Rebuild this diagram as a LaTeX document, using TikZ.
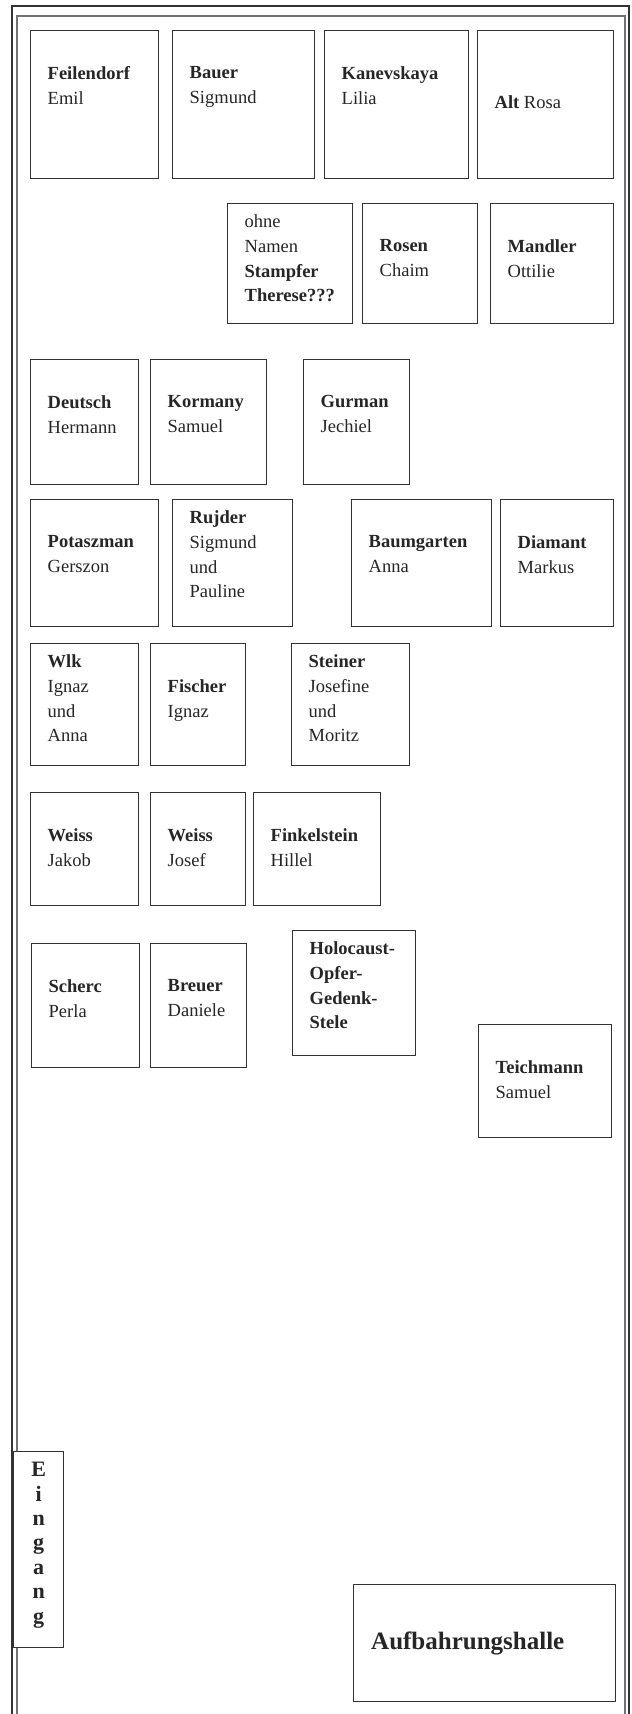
\documentclass[tikz,border=0pt]{standalone}
\usepackage{fontspec}
\setmainfont{Liberation Serif}
\usetikzlibrary{positioning}
\begin{document}
\begin{tikzpicture}[
    x=1pt, y=-1pt,
    grave/.style={draw=black!80, line width=1.4pt, fill=white, inner sep=0pt, anchor=north west},
    inscr/.style={inner sep=0pt, align=left, text=black!85,
        font=\fontsize{18.5}{24.7}\selectfont, execute at begin node=\strut},
    wall/.style={line width=2pt, draw=black!80},
    innerwall/.style={line width=1.2pt, draw=black!55}
]
    \useasboundingbox (0,0) rectangle (632,1714);
    % Cemetery wall
    \draw[wall] (12,1714) -- (12,6) -- (629,6) -- (629,1714);
    \draw[innerwall] (17,1714) -- (17,16) -- (625,16) -- (625,1714);

    % Row 1
    \node[grave, minimum width=128pt, minimum height=148pt] (feilendorf) at (30,30) {};
    \node[grave, minimum width=142pt, minimum height=148pt] (bauer) at (172,30) {};
    \node[grave, minimum width=144pt, minimum height=148pt] (kanevskaya) at (324,30) {};
    \node[grave, minimum width=136pt, minimum height=148pt] (alt) at (477,30) {};
    \node[inscr, below right=36.4pt and 17.5pt of feilendorf.north west] (feilendorf-t) {\textbf{Feilendorf}\\Emil};
    \node[inscr, below right=36.4pt and 17.5pt of bauer.north west] (bauer-t) {\textbf{Bauer}\\Sigmund};
    \node[inscr, below right=36.4pt and 17.5pt of kanevskaya.north west] (kanevskaya-t) {\textbf{Kanevskaya}\\Lilia};
    \node[inscr, below right=61.1pt and 17.5pt of alt.north west] (alt-t) {\textbf{Alt} Rosa};

    % Row 2
    \node[grave, minimum width=125pt, minimum height=120pt] (ohne) at (227,203) {};
    \node[grave, minimum width=115pt, minimum height=120pt] (rosen) at (362,203) {};
    \node[grave, minimum width=123pt, minimum height=120pt] (mandler) at (490,203) {};
    \node[inscr, below right=11.7pt and 17.5pt of ohne.north west] (ohne-t) {ohne\\Namen\\\textbf{Stampfer}\\\textbf{Therese???}};
    \node[inscr, below right=36.4pt and 17.5pt of rosen.north west] (rosen-t) {\textbf{Rosen}\\Chaim};
    \node[inscr, below right=36.4pt and 17.5pt of mandler.north west] (mandler-t) {\textbf{Mandler}\\Ottilie};

    % Row 3
    \node[grave, minimum width=108pt, minimum height=125pt] (deutsch) at (30,359) {};
    \node[grave, minimum width=116pt, minimum height=125pt] (kormany) at (150,359) {};
    \node[grave, minimum width=106pt, minimum height=125pt] (gurman) at (303,359) {};
    \node[inscr, below right=36.4pt and 17.5pt of deutsch.north west] (deutsch-t) {\textbf{Deutsch}\\Hermann};
    \node[inscr, below right=36.4pt and 17.5pt of kormany.north west] (kormany-t) {\textbf{Kormany}\\Samuel};
    \node[inscr, below right=36.4pt and 17.5pt of gurman.north west] (gurman-t) {\textbf{Gurman}\\Jechiel};

    % Row 4
    \node[grave, minimum width=128pt, minimum height=127pt] (potaszman) at (30,499) {};
    \node[grave, minimum width=120pt, minimum height=127pt] (rujder) at (172,499) {};
    \node[grave, minimum width=140pt, minimum height=127pt] (baumgarten) at (351,499) {};
    \node[grave, minimum width=113pt, minimum height=127pt] (diamant) at (500,499) {};
    \node[inscr, below right=36.4pt and 17.5pt of potaszman.north west] (potaszman-t) {\textbf{Potaszman}\\Gerszon};
    \node[inscr, below right=11.7pt and 17.5pt of rujder.north west] (rujder-t) {\textbf{Rujder}\\Sigmund\\und\\Pauline};
    \node[inscr, below right=36.4pt and 17.5pt of baumgarten.north west] (baumgarten-t) {\textbf{Baumgarten}\\Anna};
    \node[inscr, below right=36.4pt and 17.5pt of diamant.north west] (diamant-t) {\textbf{Diamant}\\Markus};

    % Row 5
    \node[grave, minimum width=108pt, minimum height=122pt] (wlk) at (30,643) {};
    \node[grave, minimum width=95pt, minimum height=122pt] (fischer) at (150,643) {};
    \node[grave, minimum width=118pt, minimum height=122pt] (steiner) at (291,643) {};
    \node[inscr, below right=11.7pt and 17.5pt of wlk.north west] (wlk-t) {\textbf{Wlk}\\Ignaz\\und\\Anna};
    \node[inscr, below right=36.4pt and 17.5pt of fischer.north west] (fischer-t) {\textbf{Fischer}\\Ignaz};
    \node[inscr, below right=11.7pt and 17.5pt of steiner.north west] (steiner-t) {\textbf{Steiner}\\Josefine\\und\\Moritz};

    % Row 6
    \node[grave, minimum width=108pt, minimum height=113pt] (weissJ) at (30,792) {};
    \node[grave, minimum width=95pt, minimum height=113pt] (weissJo) at (150,792) {};
    \node[grave, minimum width=127pt, minimum height=113pt] (finkelstein) at (253,792) {};
    \node[inscr, below right=36.4pt and 17.5pt of weissJ.north west] (weissJ-t) {\textbf{Weiss}\\Jakob};
    \node[inscr, below right=36.4pt and 17.5pt of weissJo.north west] (weissJo-t) {\textbf{Weiss}\\Josef};
    \node[inscr, below right=36.4pt and 17.5pt of finkelstein.north west] (finkelstein-t) {\textbf{Finkelstein}\\Hillel};

    % Row 7
    \node[grave, minimum width=108pt, minimum height=124pt] (scherc) at (31,943) {};
    \node[grave, minimum width=96pt, minimum height=124pt] (breuer) at (150,943) {};
    \node[grave, minimum width=123pt, minimum height=125pt] (stele) at (292,930) {};
    \node[grave, minimum width=133pt, minimum height=113pt] (teichmann) at (478,1024) {};
    \node[inscr, below right=36.4pt and 17.5pt of scherc.north west] (scherc-t) {\textbf{Scherc}\\Perla};
    \node[inscr, below right=36.4pt and 17.5pt of breuer.north west] (breuer-t) {\textbf{Breuer}\\Daniele};
    \node[inscr, below right=11.7pt and 17.5pt of stele.north west] (stele-t) {\textbf{Holocaust-}\\\textbf{Opfer-}\\\textbf{Gedenk-}\\\textbf{Stele}};
    \node[inscr, below right=36.4pt and 17.5pt of teichmann.north west] (teichmann-t) {\textbf{Teichmann}\\Samuel};

    % Entrance and hall
    \node[grave, minimum width=50pt, minimum height=196pt] (eingang) at (13,1451) {};
    \node[inscr, align=center, font=\bfseries\fontsize{22}{24.4}\selectfont,
        below=11pt of eingang.north] (eingang-t) {E\\i\\n\\g\\a\\n\\g};
    \node[grave, minimum width=262pt, minimum height=117pt] (halle) at (353,1584) {};
    \node[inscr, font=\bfseries\fontsize{25}{30}\selectfont,
        below right=44pt and 18pt of halle.north west] (halle-t) {Aufbahrungshalle};
\end{tikzpicture}
\end{document}
